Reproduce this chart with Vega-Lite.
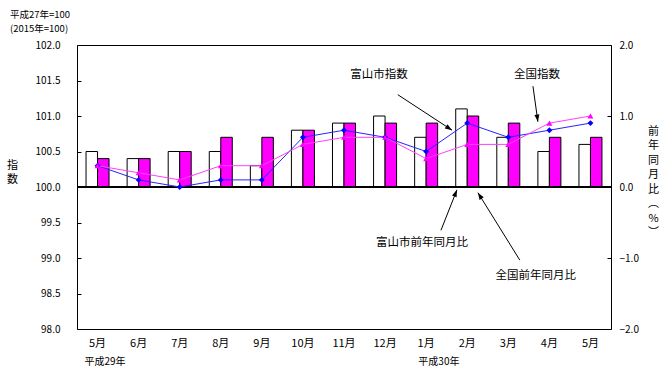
{
  "$schema": "https://vega.github.io/schema/vega-lite/v6.json",
  "width": 534,
  "height": 284,
  "autosize": {"type": "none"},
  "padding": {"left": 77, "top": 45, "right": 52, "bottom": 48},
  "config": {
    "font": "Noto Sans CJK JP",
    "view": {"stroke": "black", "strokeWidth": 1},
    "axis": {"grid": false, "labelColor": "black", "titleColor": "black", "tickColor": "black", "titleFontWeight": "normal", "domain": false, "labelOverlap": false}
  },
  "title": {
    "text": "平成27年=100",
    "subtitle": "\u00a0(2015年=100)",
    "anchor": "start",
    "frame": "group",
    "dx": -67,
    "offset": 7,
    "fontSize": 9.5,
    "fontWeight": "normal",
    "subtitleFontSize": 9.5,
    "subtitlePadding": 4.5,
    "color": "black",
    "subtitleColor": "black"
  },
  "data": {
    "values": [
      {"period": "2017-5", "toyama_idx": 100.3, "zenkoku_idx": 100.3, "toyama_yoy": 0.5, "zenkoku_yoy": 0.4},
      {"period": "2017-6", "toyama_idx": 100.1, "zenkoku_idx": 100.2, "toyama_yoy": 0.4, "zenkoku_yoy": 0.4},
      {"period": "2017-7", "toyama_idx": 100.0, "zenkoku_idx": 100.1, "toyama_yoy": 0.5, "zenkoku_yoy": 0.5},
      {"period": "2017-8", "toyama_idx": 100.1, "zenkoku_idx": 100.3, "toyama_yoy": 0.5, "zenkoku_yoy": 0.7},
      {"period": "2017-9", "toyama_idx": 100.1, "zenkoku_idx": 100.3, "toyama_yoy": 0.3, "zenkoku_yoy": 0.7},
      {"period": "2017-10", "toyama_idx": 100.7, "zenkoku_idx": 100.6, "toyama_yoy": 0.8, "zenkoku_yoy": 0.8},
      {"period": "2017-11", "toyama_idx": 100.8, "zenkoku_idx": 100.7, "toyama_yoy": 0.9, "zenkoku_yoy": 0.9},
      {"period": "2017-12", "toyama_idx": 100.7, "zenkoku_idx": 100.7, "toyama_yoy": 1.0, "zenkoku_yoy": 0.9},
      {"period": "2018-1", "toyama_idx": 100.5, "zenkoku_idx": 100.4, "toyama_yoy": 0.7, "zenkoku_yoy": 0.9},
      {"period": "2018-2", "toyama_idx": 100.9, "zenkoku_idx": 100.6, "toyama_yoy": 1.1, "zenkoku_yoy": 1.0},
      {"period": "2018-3", "toyama_idx": 100.7, "zenkoku_idx": 100.6, "toyama_yoy": 0.7, "zenkoku_yoy": 0.9},
      {"period": "2018-4", "toyama_idx": 100.8, "zenkoku_idx": 100.9, "toyama_yoy": 0.5, "zenkoku_yoy": 0.7},
      {"period": "2018-5", "toyama_idx": 100.9, "zenkoku_idx": 101.0, "toyama_yoy": 0.6, "zenkoku_yoy": 0.7}
    ]
  },
  "layer": [
    {
      "layer": [
        {
          "transform": [{"fold": ["toyama_yoy", "zenkoku_yoy"], "as": ["series", "yoy"]}],
          "mark": {"type": "bar", "stroke": "black", "strokeWidth": 1},
          "encoding": {
            "x": {
              "field": "period", "type": "nominal", "sort": null,
              "scale": {"paddingInner": 0.44, "paddingOuter": 0.22},
              "axis": {"orient": "bottom", "title": null, "ticks": false, "domain": false, "labelAngle": 0, "labelPadding": 8, "labelFontSize": 11, "labelExpr": "split(datum.value,'-')[1] + '月'"}
            },
            "xOffset": {"field": "series", "type": "nominal", "sort": ["toyama_yoy", "zenkoku_yoy"], "scale": {"paddingInner": 0, "paddingOuter": 0}},
            "y": {
              "field": "yoy", "type": "quantitative",
              "scale": {"domain": [-2, 2], "nice": false},
              "axis": {"orient": "right", "values": [-2, -1, 0, 1, 2], "tickCount": 10, "format": ".1f", "tickSize": -4, "labelPadding": 12, "labelFontSize": 10, "labelOverlap": false,
                "title": ["前", "年", "同", "月", "比", "︵", "%", "︶"], "titleAngle": 0, "titleX": 42, "titleY": 86, "titleAlign": "center", "titleBaseline": "middle", "titleLineHeight": 14.5, "titleFontSize": 11}
            },
            "fill": {"field": "series", "type": "nominal", "scale": {"domain": ["toyama_yoy", "zenkoku_yoy"], "range": ["white", "#FF00FF"]}, "legend": null}
          }
        },
        {
          "layer": [
            {
              "mark": {"type": "rule", "stroke": "black", "strokeWidth": 1},
              "encoding": {"y": {"datum": 100, "type": "quantitative", "scale": {"domain": [98, 102], "nice": false, "zero": false},
                "axis": {"orient": "left", "values": [98, 98.5, 99, 99.5, 100, 100.5, 101, 101.5, 102], "tickCount": 10, "format": ".1f", "tickSize": -4, "labelPadding": 21, "labelFontSize": 10, "labelOverlap": false, "labelBound": false, "labelFlush": false,
                    "title": ["指", "数"], "titleAngle": 0, "titleX": -65, "titleY": 120, "titleAlign": "center", "titleBaseline": "middle", "titleLineHeight": 14.5, "titleFontSize": 11}}}
            },
            {
              "transform": [{"fold": ["toyama_idx", "zenkoku_idx"], "as": ["series2", "idx"]}],
              "mark": {"type": "line", "strokeWidth": 1},
              "encoding": {
                "x": {"field": "period", "type": "nominal", "sort": null, "scale": {"paddingInner": 0.44, "paddingOuter": 0.22}},
                "y": {
                  "field": "idx", "type": "quantitative",
                  "scale": {"domain": [98, 102], "nice": false, "zero": false},
                  "axis": {"orient": "left", "values": [98, 98.5, 99, 99.5, 100, 100.5, 101, 101.5, 102], "tickCount": 10, "format": ".1f", "tickSize": -4, "labelPadding": 21, "labelFontSize": 10, "labelOverlap": false, "labelBound": false, "labelFlush": false,
                    "title": ["指", "数"], "titleAngle": 0, "titleX": -65, "titleY": 120, "titleAlign": "center", "titleBaseline": "middle", "titleLineHeight": 14.5, "titleFontSize": 11}
                },
                "stroke": {"field": "series2", "type": "nominal", "scale": {"domain": ["toyama_idx", "zenkoku_idx"], "range": ["#2424FF", "#FF40FF"]}, "legend": null}
              }
            },
            {
              "transform": [{"fold": ["toyama_idx", "zenkoku_idx"], "as": ["series2", "idx"]}],
              "mark": {"type": "point", "filled": true, "opacity": 1, "size": 35},
              "encoding": {
                "x": {"field": "period", "type": "nominal", "sort": null, "scale": {"paddingInner": 0.44, "paddingOuter": 0.22}},
                "y": {"field": "idx", "type": "quantitative", "scale": {"domain": [98, 102], "nice": false, "zero": false}},
                "shape": {"field": "series2", "type": "nominal", "scale": {"domain": ["toyama_idx", "zenkoku_idx"], "range": ["diamond", "triangle-up"]}, "legend": null},
                "color": {"field": "series2", "type": "nominal", "scale": {"domain": ["toyama_idx", "zenkoku_idx"], "range": ["#0000FF", "#FF00FF"]}, "legend": null}
              }
            }
          ]
        }
      ],
      "resolve": {"scale": {"y": "independent"}}
    },
    {
      "layer": [
        {
          "data": {"values": [
            {"x1": 7.81, "y1": 101.30, "x2": 9.13, "y2": 100.80, "angle": 123},
            {"x1": 11.10, "y1": 101.42, "x2": 11.22, "y2": 100.92, "angle": 172},
            {"x1": 8.86, "y1": 99.39, "x2": 9.25, "y2": 99.96, "angle": 22},
            {"x1": 10.78, "y1": 98.97, "x2": 9.76, "y2": 99.92, "angle": 328}
          ]},
          "layer": [
            {
              "mark": {"type": "rule", "stroke": "black", "strokeWidth": 1},
              "encoding": {
                "x": {"field": "x1", "type": "quantitative", "scale": {"domain": [0, 13], "nice": false, "zero": false}, "axis": null},
                "x2": {"field": "x2"},
                "y": {"field": "y1", "type": "quantitative", "scale": {"domain": [98, 102], "nice": false, "zero": false}, "axis": null},
                "y2": {"field": "y2"}
              }
            },
            {
              "mark": {"type": "point", "filled": true, "opacity": 1, "color": "black", "size": 200, "shape": "M0,0L-0.35,1L0.35,1Z"},
              "encoding": {
                "x": {"field": "x2", "type": "quantitative", "scale": {"domain": [0, 13], "nice": false, "zero": false}, "axis": null},
                "y": {"field": "y2", "type": "quantitative", "scale": {"domain": [98, 102], "nice": false, "zero": false}, "axis": null},
                "angle": {"field": "angle", "type": "quantitative", "scale": null}
              }
            }
          ]
        },
        {
          "data": {"values": [
            {"x1": 7.35, "y1": 101.58, "label": "富山市指数"},
            {"x1": 11.20, "y1": 101.58, "label": "全国指数"},
            {"x1": 8.40, "y1": 99.21, "label": "富山市前年同月比"},
            {"x1": 11.17, "y1": 98.75, "label": "全国前年同月比"}
          ]},
          "mark": {"type": "text", "fontSize": 11.5, "align": "center", "baseline": "middle", "color": "black"},
          "encoding": {
            "x": {"field": "x1", "type": "quantitative", "scale": {"domain": [0, 13], "nice": false, "zero": false}, "axis": null},
            "y": {"field": "y1", "type": "quantitative", "scale": {"domain": [98, 102], "nice": false, "zero": false}, "axis": null},
            "text": {"field": "label"}
          }
        },
        {
          "data": {"values": [
            {"x1": 0.68, "y1": 97.535, "label": "平成29年"},
            {"x1": 8.81, "y1": 97.535, "label": "平成30年"}
          ]},
          "mark": {"type": "text", "fontSize": 10, "align": "center", "baseline": "middle", "color": "black"},
          "encoding": {
            "x": {"field": "x1", "type": "quantitative", "scale": {"domain": [0, 13], "nice": false, "zero": false}, "axis": null},
            "y": {"field": "y1", "type": "quantitative", "scale": {"domain": [98, 102], "nice": false, "zero": false}, "axis": null},
            "text": {"field": "label"}
          }
        }
      ]
    }
  ],
  "resolve": {"scale": {"x": "independent", "y": "independent"}}
}
